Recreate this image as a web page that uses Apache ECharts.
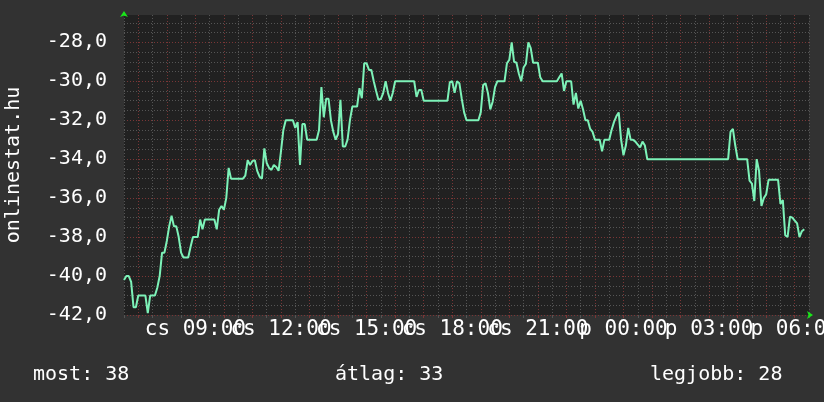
<!DOCTYPE html>
<html><head><meta charset="utf-8">
<script src="https://cdn.jsdelivr.net/npm/echarts@6/dist/echarts.min.js"></script>
<style>html,body{margin:0;padding:0;background:#323232;}#c{width:824px;height:402px;}</style>
</head><body><div id="c"></div>
<script>
// ---- data ----
const dayNames = ['cs', 'p'];          // csütörtök, péntek
const startTime = '06:30';
const stepMinutes = 5;
const slotCount = 289;                  // 24 h of 5-minute slots (inclusive)
const values = [
  -40.2, -40, -40, -40.3, -41.6, -41.6, -41, -41, -41, -41,
  -41.9, -41, -41, -41, -40.6, -40, -38.8, -38.8, -38.2, -37.45,
  -36.9, -37.45, -37.45, -38, -38.8, -39.05, -39.05, -39.05, -38.5, -38,
  -38, -38, -37.1, -37.6, -37.1, -37.1, -37.1, -37.1, -37.1, -37.6,
  -36.6, -36.4, -36.6, -36, -34.45, -35, -35, -35, -35, -35,
  -35, -34.85, -34.05, -34.3, -34.1, -34.05, -34.6, -34.9, -35, -33.45,
  -34.2, -34.45, -34.55, -34.3, -34.4, -34.6, -33.6, -32.5, -32, -32,
  -32, -32, -32.4, -32.1, -34.3, -32.2, -32.2, -33, -33, -33,
  -33, -33, -32.5, -30.3, -31.85, -30.9, -30.9, -32, -32.6, -33,
  -32.7, -30.95, -33.35, -33.35, -33, -32, -31.3, -31.3, -31.3, -30.36,
  -30.87, -29.08, -29.08, -29.42, -29.42, -30, -30.5, -30.96, -30.9, -30.6,
  -30, -30.6, -31, -30.6, -30, -30, -30, -30, -30, -30,
  -30, -30, -30, -30.8, -30.45, -30.45, -31, -31, -31, -31,
  -31, -31, -31, -31, -31, -31, -31, -30.05, -30, -30.6,
  -30, -30.1, -30.9, -31.6, -32, -32, -32, -32, -32, -32,
  -31.6, -30.2, -30.1, -30.6, -31.45, -31.05, -30.3, -30, -30, -30,
  -30, -29.08, -28.9, -28, -29, -29.05, -29.6, -30, -29.3, -29.1,
  -28, -28.3, -29.05, -29.05, -29.05, -29.8, -30, -30, -30, -30,
  -30, -30, -30, -29.8, -29.6, -30.5, -30, -30, -30, -31.2,
  -30.6, -31.4, -31, -31.45, -32, -32, -32.45, -32.6, -33, -33,
  -33, -33.6, -33, -33, -33, -32.5, -32.1, -31.8, -31.6, -33,
  -33.8, -33.3, -32.4, -33, -33, -33.1, -33.25, -33.4, -33.1, -33.3,
  -34, -34, -34, -34, -34, -34, -34, -34, -34, -34,
  -34, -34, -34, -34, -34, -34, -34, -34, -34, -34,
  -34, -34, -34, -34, -34, -34, -34, -34, -34, -34,
  -34, -34, -34, -34, -34,
  -32.6, -32.45, -33.3, -34, -34,
  -34, -34, -34, -35.1, -35.25, -36.15, -34, -34.6, -36.4, -36,
  -35.8, -35.06, -35.06, -35.06, -35.06, -35.06, -36.3, -36.1, -37.9, -38,
  -36.95, -37, -37.15, -37.3, -38, -37.7, -37.6
];
const yMin = -42, yMax = -26.6;
const summaryTexts = ['most: 38', 'átlag: 33', 'legjobb: 28'];
const axisName = 'onlinestat.hu';

// ---- categories (5-minute time slots) ----
const [sh, sm] = startTime.split(':').map(Number);
const categories = [];
for (let k = 0; k < slotCount; k++) {
  const m = sh * 60 + sm + k * stepMinutes;
  const d = dayNames[Math.floor(m / 1440)];
  const hh = Math.floor((m % 1440) / 60), mm = m % 60;
  categories.push(d + ' ' + String(hh).padStart(2, '0') + ':' + String(mm).padStart(2, '0'));
}
const isHalfHour = (i, c) => c.slice(-2) === '30';
const isHour = (i, c) => c.slice(-2) === '00';
const isLabel = (c) => c.slice(-2) === '00' && Number(c.slice(-5, -3)) % 3 === 0;

const FONT = 'DejaVu Sans Mono';
const GREY = '#555555', RED = '#7a3636', LINE = '#7df2b8', ARROW = '#19e619';

const chart = echarts.init(document.getElementById('c'), null, { renderer: 'canvas' });
chart.setOption({
  backgroundColor: '#323232',
  animation: false,
  grid: { left: 124, top: 15, right: 15, bottom: 87, show: true, backgroundColor: '#212121', borderWidth: 0,
          containLabel: false, outerBoundsMode: 'none' },
  xAxis: [
    {
      type: 'category', data: categories, boundaryGap: false, position: 'bottom',
      axisLine: { show: false },
      axisTick: { show: true, interval: isHalfHour, length: 3, lineStyle: { color: GREY } },
      axisLabel: { show: false },
      splitLine: { show: true, interval: isHalfHour, lineStyle: { color: GREY, type: [1, 2], width: 1 } }
    },
    {
      type: 'category', data: categories, boundaryGap: false, position: 'bottom',
      axisLine: { show: true, symbol: ['none', 'arrow'], symbolSize: [6, 6], symbolOffset: [0, 4],
        lineStyle: { color: ARROW, width: 0 } },
      axisTick: { show: true, interval: isHour, length: 3, lineStyle: { color: RED } },
      axisLabel: { show: true, interval: 0, hideOverlap: false, color: '#ffffff', fontFamily: FONT, fontSize: 21, margin: 4,
        formatter: c => (isLabel(c) ? c : '') },
      splitLine: { show: true, interval: isHour, lineStyle: { color: RED, type: [1, 2], width: 1 } }
    }
  ],
  yAxis: [
    {
      type: 'value', min: yMin, max: yMax, interval: 0.5, position: 'left',
      axisLine: { show: false },
      axisTick: { show: false },
      axisLabel: { show: false },
      splitLine: { show: true, showMaxLine: false, lineStyle: { color: GREY, type: [1, 2], width: 1 } }
    },
    {
      type: 'value', min: yMin, max: yMax, interval: 2, position: 'left',
      name: axisName, nameLocation: 'middle', nameRotate: 90, nameGap: 100,
      nameTextStyle: { color: '#ffffff', fontFamily: FONT, fontSize: 20 },
      axisLine: { show: true, symbol: ['none', 'arrow'], symbolSize: [6, 6], symbolOffset: [0, 4],
        lineStyle: { color: ARROW, width: 0 } },
      axisTick: { show: false },
      axisLabel: {
        show: true, color: '#ffffff', fontFamily: FONT, fontSize: 20, margin: 17, showMaxLabel: false,
        formatter: v => (Math.abs(v % 2) < 1e-9 ? v.toFixed(1).replace('.', ',') : '')
      },
      splitLine: { show: true, showMaxLine: false, lineStyle: { color: RED, type: [1, 2], width: 1 } }
    }
  ],
  series: [{
    type: 'line', xAxisIndex: 1, yAxisIndex: 1, data: values,
    showSymbol: false, symbol: 'none',
    lineStyle: { color: LINE, width: 2 }, z: 5
  }],
  graphic: [
    { type: 'text', left: 33, top: 365, style: { text: summaryTexts[0], fill: '#fff', font: '20px "DejaVu Sans Mono"' } },
    { type: 'text', left: 335, top: 365, style: { text: summaryTexts[1], fill: '#fff', font: '20px "DejaVu Sans Mono"' } },
    { type: 'text', left: 650, top: 365, style: { text: summaryTexts[2], fill: '#fff', font: '20px "DejaVu Sans Mono"' } }
  ]
});
</script>
</body></html>
